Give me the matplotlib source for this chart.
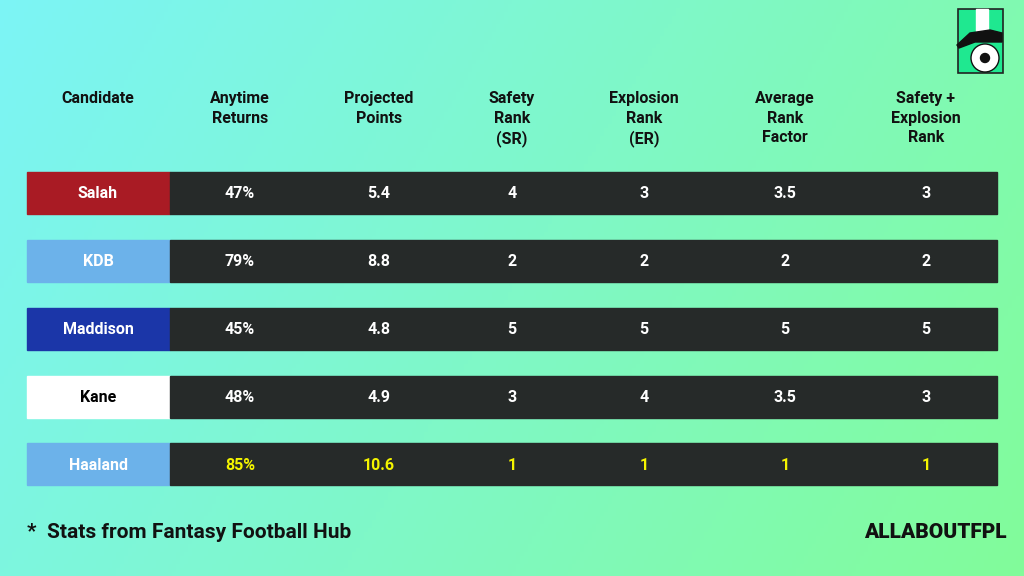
import numpy as np
import matplotlib
matplotlib.use("Agg")
import matplotlib.pyplot as plt
from matplotlib.patches import Rectangle, Circle, Polygon

headers = ["Candidate", "Anytime\nReturns", "Projected\nPoints", "Safety\nRank\n(SR)",
           "Explosion\nRank\n(ER)", "Average\nRank\nFactor", "Safety +\nExplosion\nRank"]
players = ["Salah", "KDB", "Maddison", "Kane", "Haaland"]
player_colors = ["#a91b24", "#6cb2ea", "#1b36a8", "#ffffff", "#6cb2ea"]
player_text = ["white", "white", "white", "black", "white"]
anytime = ["47%", "79%", "45%", "48%", "85%"]
projected = ["5.4", "8.8", "4.8", "4.9", "10.6"]
safety = ["4", "2", "5", "3", "1"]
explosion = ["3", "2", "5", "4", "1"]
average = ["3.5", "2", "5", "3.5", "1"]
combined = ["3", "2", "5", "3", "1"]
highlight = [False, False, False, False, True]

W, H = 1024, 576
fig = plt.figure(figsize=(10.24, 5.76), dpi=100)
ax = fig.add_axes([0, 0, 1, 1])
ax.set_xlim(0, W); ax.set_ylim(H, 0); ax.axis("off")

xx, yy = np.meshgrid(np.linspace(0, 1, 256), np.linspace(0, 1, 144))
t = np.clip(0.75 * xx + 0.25 * yy, 0, 1)[..., None]
c1 = np.array([0x7c, 0xf4, 0xf6]) / 255
c2 = np.array([0x82, 0xfc, 0x9a]) / 255
ax.imshow(c1 * (1 - t) + c2 * t, extent=[0, W, H, 0], aspect="auto", zorder=0)

font = "Roboto"
fs = 11.5
col_x = [98, 240, 379, 512, 644, 785, 926]
for x, h in zip(col_x, headers):
    ax.text(x, 91, h, ha="center", va="top", fontsize=fs, fontweight="bold",
            family=font, color="#111111", linespacing=1.38)

row_top = [172, 240, 308, 376, 443]
rh = 42
for i, y in enumerate(row_top):
    ax.add_patch(Rectangle((27, y), 143, rh, color=player_colors[i], zorder=2))
    ax.add_patch(Rectangle((170, y), 827, rh, color="#262a29", zorder=2))
    yc = y + rh / 2 + 1
    ax.text(col_x[0], yc, players[i], ha="center", va="center", fontsize=fs,
            fontweight="bold", family=font, color=player_text[i], zorder=3)
    vals = [anytime[i], projected[i], safety[i], explosion[i], average[i], combined[i]]
    tc = "#f4f400" if highlight[i] else "white"
    for x, v in zip(col_x[1:], vals):
        ax.text(x, yc, v, ha="center", va="center", fontsize=fs, fontweight="bold",
                family=font, color=tc, zorder=3)

ax.text(27, 533, "*  Stats from Fantasy Football Hub", ha="left", va="center",
        fontsize=15, fontweight="bold", family=font, color="#111111")
ax.text(1007, 533, "ALLABOUTFPL", ha="right", va="center", fontsize=15,
        fontweight="black", family=font, color="#111111")

# logo
ax.add_patch(Rectangle((958, 9), 45, 64, facecolor="#1fe890", edgecolor="#222222", lw=1.2, zorder=4))
ax.add_patch(Rectangle((976, 9), 12, 22, color="white", zorder=5))
ax.add_patch(Polygon([(957, 45), (970, 33), (990, 30), (1002, 33), (1002, 42), (975, 42), (959, 48)],
                     color="#111111", zorder=6))
ax.add_patch(Circle((985, 58), 14, facecolor="white", edgecolor="#111111", lw=1, zorder=5))
ax.add_patch(Circle((985, 58), 4.5, color="#111111", zorder=6))

fig.savefig("out.png", dpi=100)
